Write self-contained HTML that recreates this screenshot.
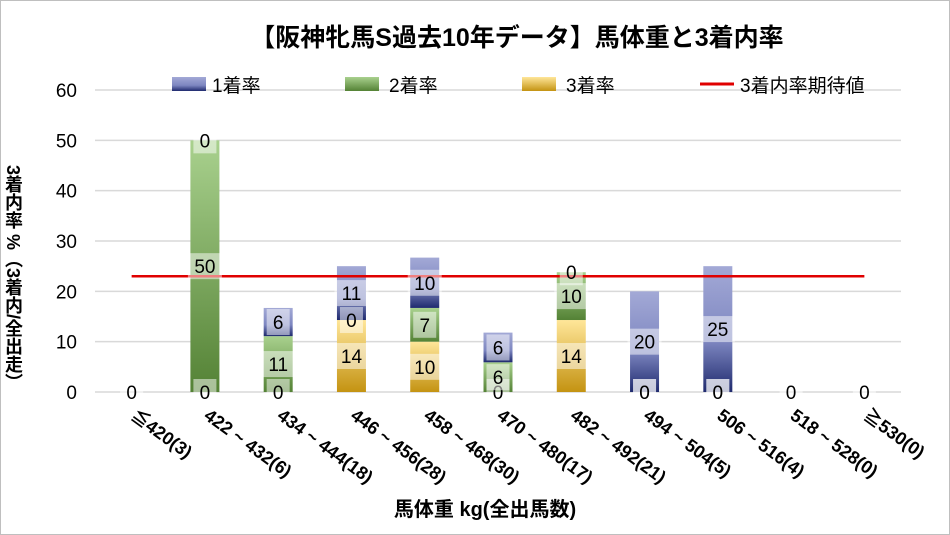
<!DOCTYPE html>
<html><head><meta charset="utf-8"><style>
body{margin:0;background:#fff}
svg{display:block;font-family:"Liberation Sans","Noto Sans CJK JP",sans-serif}
</style></head><body>
<svg id="chart" width="950" height="535">
<defs>
<linearGradient id="gB" x1="0" y1="0" x2="0" y2="1"><stop offset="0" stop-color="#a3a9d6"/><stop offset="0.6" stop-color="#7d86c0"/><stop offset="1" stop-color="#1f2a6e"/></linearGradient>
<linearGradient id="gG" x1="0" y1="0" x2="0" y2="1"><stop offset="0" stop-color="#a9d18e"/><stop offset="1" stop-color="#548235"/></linearGradient>
<linearGradient id="gY" x1="0" y1="0" x2="0" y2="1"><stop offset="0" stop-color="#ffe699"/><stop offset="1" stop-color="#c49312"/></linearGradient>
</defs>
<rect x="0.5" y="0.5" width="949" height="534" fill="#fff" stroke="#bfbfbf"/>
<text x="517" y="46" text-anchor="middle" font-size="25" font-weight="bold">【阪神牝馬S過去10年データ】馬体重と3着内率</text>
<g id="grid"></g><g id="bars"></g><g id="line"></g><g id="labels"></g><g id="axes"></g>
<g font-size="19">
<rect x="172" y="77" width="34" height="14" fill="url(#gB)"/>
<text x="212" y="92">1着率</text>
<rect x="345" y="77" width="34" height="14" fill="url(#gG)"/>
<text x="389" y="92">2着率</text>
<rect x="522" y="77" width="34" height="14" fill="url(#gY)"/>
<text x="566" y="92">3着率</text>
<line x1="700" y1="84" x2="734" y2="84" stroke="#e00000" stroke-width="3"/>
<text x="740" y="92">3着内率期待値</text>
</g>
<text transform="translate(13,165)" style="writing-mode:vertical-rl" font-size="18" font-weight="bold">3着内率 %（3着内/全出走）</text>
<text x="485" y="516" text-anchor="middle" font-size="20" font-weight="bold">馬体重 kg(全出馬数)</text>
</svg>
<script>
const categories=["≦420(3)","422 ~ 432(6)","434 ~ 444(18)","446 ~ 456(28)","458 ~ 468(30)","470 ~ 480(17)","482 ~ 492(21)","494 ~ 504(5)","506 ~ 516(4)","518 ~ 528(0)","≧530(0)"];
const first=[0,0,5.6,10.7,10,5.9,0,20,25,0,0];
const second=[0,50,11.1,0,6.7,5.9,9.5,0,0,0,0];
const third=[0,0,0,14.3,10,0,14.3,0,0,0,0];
const firstLbl=["","0","6","11","10","6","0","20","25","",""];
const secondLbl=["","50","11","0","7","6","10","0","0","",""];
const thirdLbl=["0","0","0","14","10","0","14","0","0","0","0"];
const expected=23;
const yTicks=[0,10,20,30,40,50,60];

const NS="http://www.w3.org/2000/svg";
const L=95,R=901,Y0=392,Y60=90;
const step=(R-L)/categories.length, bw=29;
const y=v=>Y0-(v/60)*(Y0-Y60);
const xc=i=>L+step*(i+0.5);
function mk(t,a,p){const e=document.createElementNS(NS,t);for(const k in a)e.setAttribute(k,a[k]);p.appendChild(e);return e;}
const G=document.getElementById('grid'),B=document.getElementById('bars'),LB=document.getElementById('labels'),AX=document.getElementById('axes'),LN=document.getElementById('line');
yTicks.forEach(t=>{
 const l=mk('line',{x1:L,x2:R,y1:y(t),y2:y(t),stroke:'#d9d9d9','stroke-width':1.5},G);
 
 
 const tx=mk('text',{x:77,y:y(t)+7,'text-anchor':'end','font-size':19},AX);tx.textContent=t;
 
 
});
function label(txt,cx,cy,name){
 if(txt==="")return;
 const w=txt.length*11+12;
 const r=mk('rect',{x:cx-w/2,y:cy-13,width:w,height:26,fill:'#fff','fill-opacity':0.5},LB);
 
 
 const t=mk('text',{x:cx,y:cy+7,'text-anchor':'middle','font-size':19},LB);t.textContent=txt;
 
 
}
categories.forEach((c,i)=>{
 const x=xc(i);
 let base=0;
 [[third,'url(#gY)','3rd',thirdLbl],[second,'url(#gG)','2nd',secondLbl],[first,'url(#gB)','1st',firstLbl]].forEach(([arr,fill,n,lb])=>{
  const v=arr[i];
  if(v>0){
   const r=mk('rect',{x:x-bw/2,y:y(base+v),width:bw,height:y(base)-y(base+v),fill:fill},B);
   
   
  }
  label(lb[i],x,(y(base)+y(base+v))/2,'value-label-'+n+'-'+i);
  base+=v;
 });
 const t=mk('text',{x:0,y:0,'font-size':18,'font-weight':'bold',transform:`translate(${x-2},${418}) rotate(36)`},AX);t.textContent=c;
 
 
});
const el=mk('line',{x1:xc(0),x2:xc(categories.length-1),y1:y(expected),y2:y(expected),stroke:'#e00000','stroke-width':2.5},LN);


</script>
</body></html>
